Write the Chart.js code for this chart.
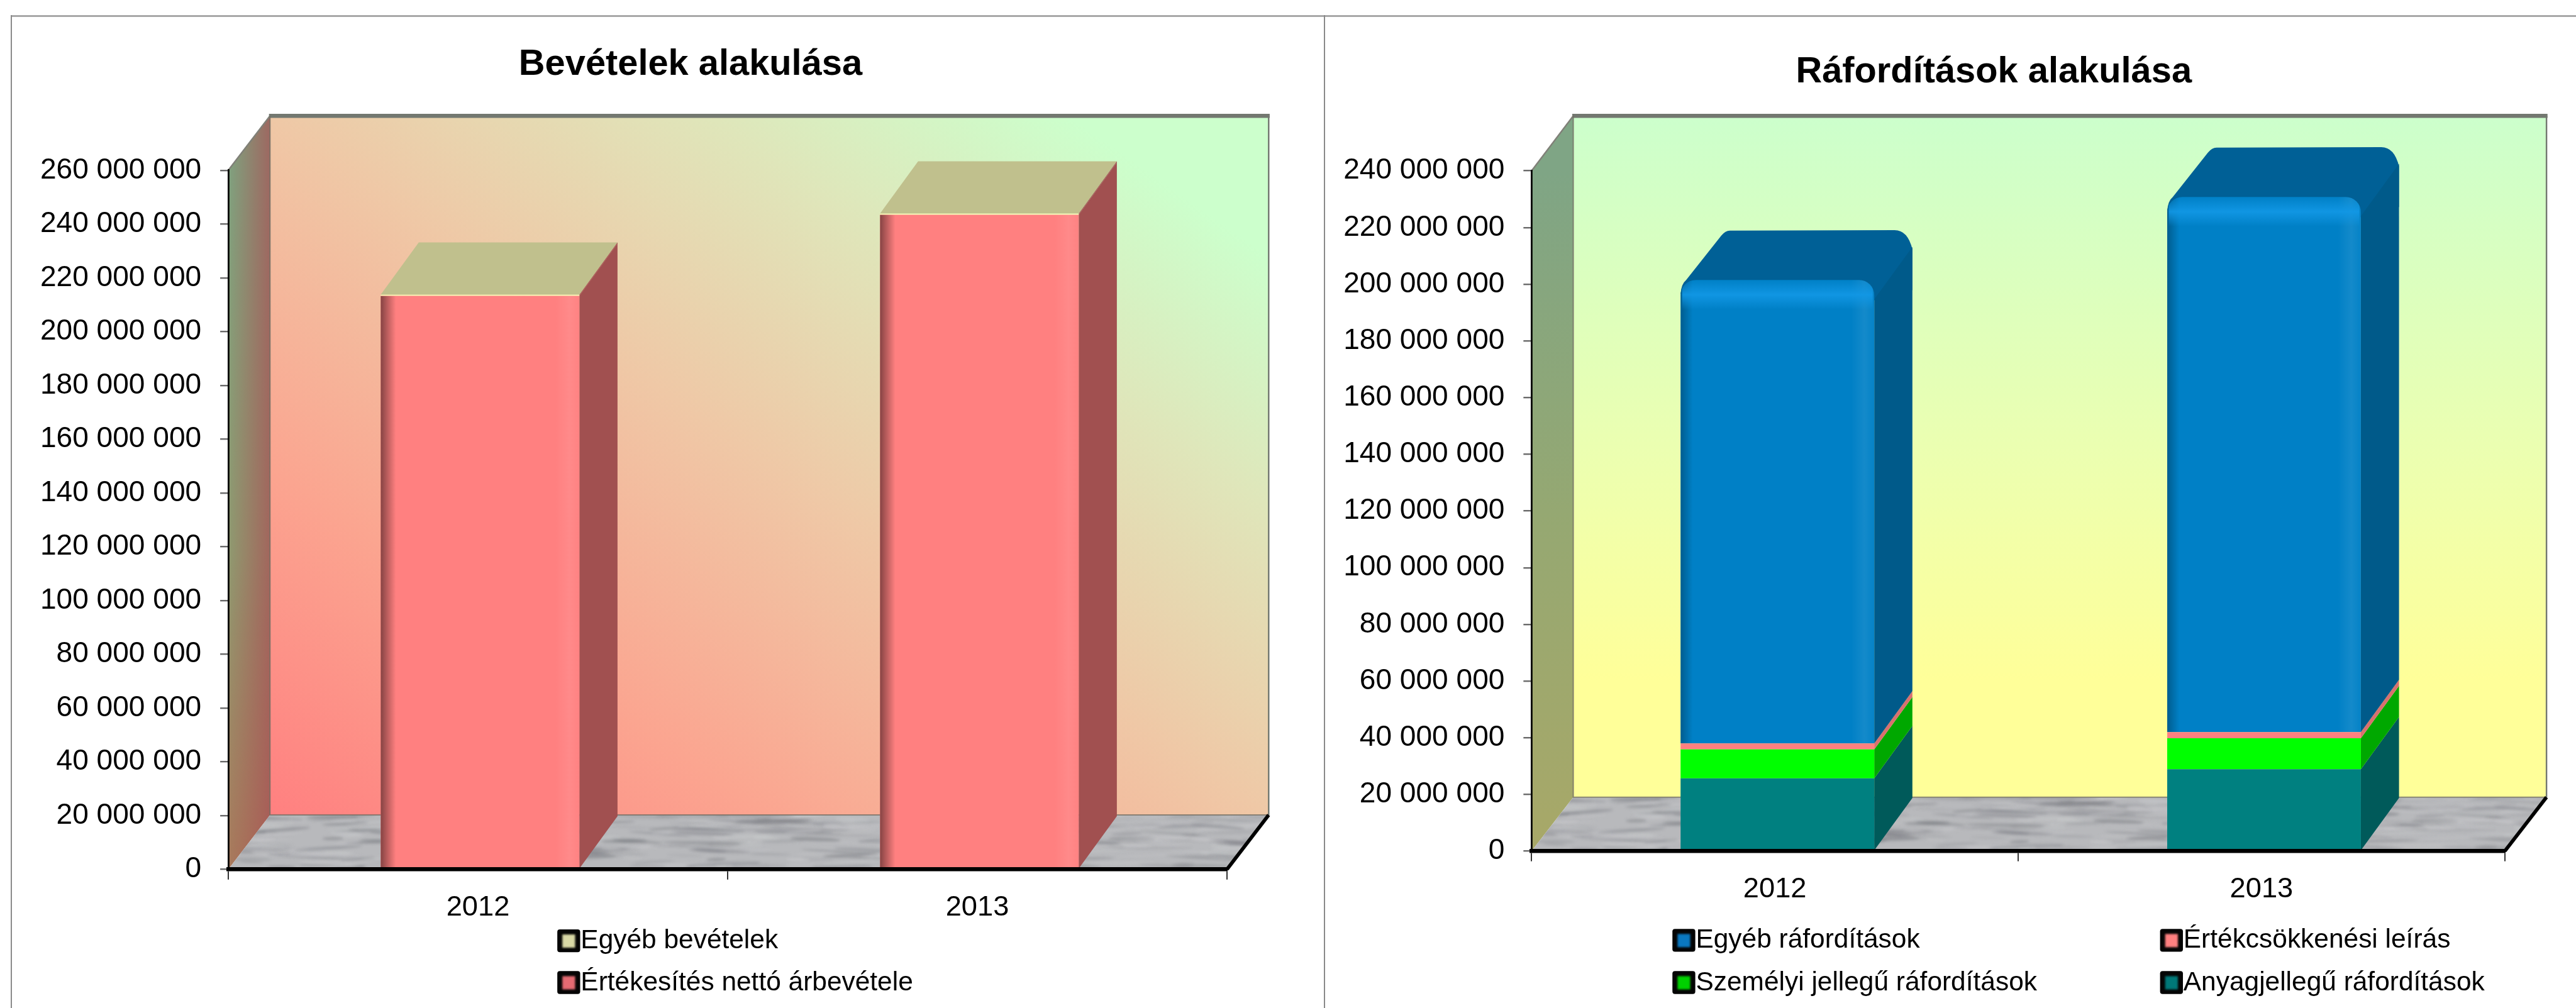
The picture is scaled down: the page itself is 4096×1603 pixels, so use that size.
<!DOCTYPE html>
<html lang="hu"><head><meta charset="utf-8"><title>Bevételek és ráfordítások</title>
<style>
html,body{margin:0;padding:0;background:#fff;overflow:hidden;width:4096px;height:1603px}
canvas{position:absolute;top:0}
.ln{position:absolute;background:#8a8a8a}
</style>
<script src="https://cdn.jsdelivr.net/npm/chart.js@4"></script>
</head><body>
<div class="ln" style="left:17px;top:24px;right:0;height:3px;background:#a8a8a8"></div>
<div class="ln" style="left:17px;top:24px;width:2px;bottom:0"></div>
<div class="ln" style="left:2105px;top:24px;width:2px;bottom:0"></div>
<canvas id="c1"></canvas><canvas id="c2"></canvas>
<script>
// ---- data ----
const categories = ['2012', '2013'];
const titleLeft = 'Bevételek alakulása';
const titleRight = 'Ráfordítások alakulása';
const salesRevenue = [213300000, 243500000];
const otherRevenue = [400000, 400000];
const materialCosts = [25700000, 28900000];
const personnelCosts = [10200000, 10900000];
const depreciation = [2100000, 2200000];
const otherCosts = [163500000, 188800000];
const labelSales = 'Értékesítés nettó árbevétele';
const labelOtherRevenue = 'Egyéb bevételek';
const labelMaterial = 'Anyagjellegű ráfordítások';
const labelPersonnel = 'Személyi jellegű ráfordítások';
const labelDepreciation = 'Értékcsökkenési leírás';
const labelOtherCosts = 'Egyéb ráfordítások';
const maxLeft = 260000000, maxRight = 240000000, tickStep = 20000000;

// ---- layout (reference pixels scaled to the window) ----
const K = 4096 / 5066, R = v => v * K;
const FONT = '"Liberation Sans", Arial, sans-serif';
const fmt = v => String(v).replace(/\B(?=(\d{3})+(?!\d))/g, ' ');

function hash(i){ const s = Math.sin(i * 12.9898) * 43758.5453; return s - Math.floor(s); }
function marble(ctx){
  const W = 1800, H = 110;
  const c = document.createElement('canvas'); c.width = W; c.height = H;
  const g = c.getContext('2d');
  g.fillStyle = '#b8b9bc'; g.fillRect(0, 0, W, H);
  g.filter = 'blur(2px)';
  for (let i = 0; i < 520; i++){
    const dark = hash(i * 3 + 1) < 0.6;
    g.fillStyle = dark ? `rgba(105,107,114,${0.12 + 0.33 * hash(i + 7)})` : `rgba(208,209,211,${0.18 + 0.3 * hash(i + 11)})`;
    g.beginPath();
    g.ellipse(hash(i + 0.5) * W, hash(i * 2 + 0.3) * H, 14 + hash(i * 5) * 50, 0.8 + hash(i * 7) * 2.6, (hash(i * 9) - 0.5) * 0.16, 0, 7);
    g.fill();
  }
  const p = ctx.createPattern(c, 'no-repeat');
  return p;
}

function wallFill(ctx, b, stops, diagonal){
  const w = b.r - b.l, h = b.b - b.t;
  let gr;
  if (diagonal){
    const cx = (b.l + b.r) / 2, cy = (b.t + b.b) / 2, L = Math.hypot(w, h);
    const ux = h / L, uy = -w / L, half = w * h / L;
    gr = ctx.createLinearGradient(cx - ux * half, cy - uy * half, cx + ux * half, cy + uy * half);
  } else gr = ctx.createLinearGradient(0, b.t, 0, b.b);
  stops.forEach(s => gr.addColorStop(s[0], s[1]));
  return gr;
}

const scene = {
  id: 'scene',
  afterLayout(chart){
    const o = chart.options.plugins.scene, t = chart.titleBlock;
    const shift = o.titleX - (t.left + t.right) / 2;
    t.left += shift; t.right += shift;
  },
  afterDatasetsUpdate(chart){
    const o = chart.options.plugins.scene;
    chart.data.datasets.forEach((_, i) => chart.getDatasetMeta(i).data.forEach(e => { e.x += o.barShift; }));
  },
  beforeDatasetsDraw(chart){
    const ctx = chart.ctx, o = chart.options.plugins.scene, a = chart.chartArea;
    const b = {l: a.left + o.depthX, r: a.right + o.depthX, t: o.wallTop, b: a.bottom - o.depthY};
    ctx.save();
    // back wall
    ctx.fillStyle = wallFill(ctx, b, o.wallStops, o.diagonal);
    ctx.fillRect(b.l, b.t, b.r - b.l, b.b - b.t);
    // side wall
    ctx.beginPath();
    ctx.moveTo(a.left, a.bottom); ctx.lineTo(a.left, a.top); ctx.lineTo(b.l, b.t); ctx.lineTo(b.l, b.b); ctx.closePath();
    const sg = ctx.createLinearGradient(0, a.top, 0, a.bottom);
    o.sideStops.forEach(s => sg.addColorStop(s[0], s[1]));
    ctx.fillStyle = sg; ctx.fill();
    if (o.sideTint){
      const tg = ctx.createLinearGradient(a.left, 0, b.l, 0);
      tg.addColorStop(0, 'rgba(170,80,80,0)'); tg.addColorStop(1, o.sideTint);
      ctx.fillStyle = tg; ctx.fill();
    }
    // floor
    ctx.save();
    ctx.beginPath();
    ctx.moveTo(a.left, a.bottom); ctx.lineTo(b.l, b.b); ctx.lineTo(b.r, b.b); ctx.lineTo(a.right, a.bottom); ctx.closePath();
    ctx.clip();
    ctx.translate(a.left, b.b);
    ctx.fillStyle = marble(ctx);
    ctx.fillRect(0, 0, a.right - a.left + o.depthX + 4, a.bottom - b.b + 2);
    ctx.restore();
    // wall edges
    ctx.strokeStyle = '#737870'; ctx.lineWidth = R(8);
    ctx.beginPath(); ctx.moveTo(b.l - R(2), b.t); ctx.lineTo(b.r + R(2), b.t); ctx.stroke();
    ctx.lineWidth = R(3);
    ctx.beginPath(); ctx.moveTo(b.r, b.t); ctx.lineTo(b.r, b.b); ctx.stroke();
    ctx.strokeStyle = '#808078';
    ctx.beginPath(); ctx.moveTo(a.left, a.top); ctx.lineTo(b.l, b.t); ctx.stroke();
    ctx.strokeStyle = 'rgba(110,105,95,.75)'; ctx.lineWidth = R(2.5);
    ctx.beginPath(); ctx.moveTo(b.l, b.t); ctx.lineTo(b.l, b.b); ctx.lineTo(b.r, b.b); ctx.stroke();
    ctx.strokeStyle = '#000'; ctx.lineWidth = R(7);
    ctx.beginPath(); ctx.moveTo(a.right, a.bottom); ctx.lineTo(b.r, b.b); ctx.stroke();

    // 3-D sides and tops of the bars, taken from the bar elements themselves
    const dx = o.barX, dy = o.barY, sets = chart.data.datasets, n = sets.length;
    categories.forEach((_, j) => {
      const top = chart.getDatasetMeta(n - 1).data[j];
      const L = top.x - top.width / 2, Rt = top.x + top.width / 2, yT = top.y;
      const rr = o.round;
      ctx.fillStyle = sets[n - 1].topColor;
      ctx.beginPath();
      if (rr){
        ctx.moveTo(L, yT + R(28));
        ctx.quadraticCurveTo(L + R(1), yT + R(8), L + R(11), yT);
        ctx.lineTo(L + R(80), yT - R(87));
        ctx.quadraticCurveTo(L + R(88), yT - R(97), L + R(97), yT - R(97));
        ctx.lineTo(Rt + R(40), yT - R(98));
        ctx.quadraticCurveTo(Rt + R(66), yT - R(98), Rt + dx, yT - R(60));
        ctx.lineTo(Rt + dx, yT + R(20)); ctx.lineTo(Rt, yT + R(40));
      } else {
        ctx.moveTo(L, yT); ctx.lineTo(L + dx, yT - dy); ctx.lineTo(Rt + dx, yT - dy); ctx.lineTo(Rt, yT);
      }
      ctx.closePath(); ctx.fill();
      sets.forEach((ds, i) => {
        const e = chart.getDatasetMeta(i).data[j];
        const x = e.x + e.width / 2, yt = i === n - 1 && rr ? e.y + R(38) : e.y, yb = e.base;
        ctx.fillStyle = ds.sideColor;
        ctx.beginPath();
        ctx.moveTo(x, yt); ctx.lineTo(x + dx, yt - dy); ctx.lineTo(x + dx, yb - dy); ctx.lineTo(x, yb);
        ctx.closePath(); ctx.fill();
      });
    });
    ctx.restore();
  },
  afterDatasetsDraw(chart){
    const ctx = chart.ctx, o = chart.options.plugins.scene, sets = chart.data.datasets;
    ctx.save();
    sets.forEach((ds, i) => {
      if (!ds.shade) return;
      chart.getDatasetMeta(i).data.forEach(e => {
        const L = e.x - e.width / 2, w = e.width, h = e.base - e.y;
        ctx.save();
        ctx.beginPath();
        ctx.roundRect(L, e.y, w, h, o.round ? [o.round, o.round, 0, 0] : 0);
        ctx.clip();
        const g = ctx.createLinearGradient(L, 0, L + w, 0);
        const f = R(ds.shadeW) / w;
        g.addColorStop(0, `rgba(0,0,0,${ds.shade})`); g.addColorStop(f, 'rgba(0,0,0,0)');
        g.addColorStop(0.88, 'rgba(255,255,255,0)'); g.addColorStop(0.95, 'rgba(255,255,255,.08)'); g.addColorStop(1, 'rgba(255,255,255,.02)');
        ctx.fillStyle = g; ctx.fillRect(L, e.y, w, h);
        if (o.round){
          const t = ctx.createLinearGradient(0, e.y, 0, e.y + R(58));
          t.addColorStop(0, 'rgba(18,152,230,0)'); t.addColorStop(0.5, 'rgba(18,152,230,.9)'); t.addColorStop(1, 'rgba(18,152,230,0)');
          ctx.fillStyle = t; ctx.fillRect(L + R(3), e.y, w - R(6), R(58));
        }
        ctx.restore();
      });
    });
    ctx.restore();
    // legend
    const lg = o.legend;
    ctx.save();
    ctx.font = `${R(52.5)}px ${FONT}`; ctx.textBaseline = 'middle'; ctx.textAlign = 'left';
    lg.forEach(it => {
      const ds = sets[it.ds], x = it.x, y = it.y;
      ctx.fillStyle = '#050505';
      ctx.beginPath(); ctx.roundRect(x, y - R(23), R(45), R(45), R(5)); ctx.fill();
      ctx.filter = 'blur(1.5px)';
      ctx.fillStyle = ds.legendColor;
      ctx.fillRect(x + R(10), y - R(13), R(25), R(26));
      ctx.filter = 'none';
      ctx.fillStyle = '#000';
      ctx.fillText(ds.label, x + R(46), y);
    });
    ctx.restore();
  }
};

function build(id, left, width, cfg){
  const cv = document.getElementById(id);
  cv.style.left = left + 'px'; cv.style.width = width + 'px'; cv.style.height = '1603px';
  cv.width = width; cv.height = 1603;
  return new Chart(cv, {
    type: 'bar',
    data: {labels: categories, datasets: cfg.datasets},
    plugins: [scene],
    options: {
      responsive: false, animation: false, events: [],
      layout: {padding: {left: 0, top: 0, right: width - (R(cfg.axisR) - left), bottom: 0}},
      datasets: {bar: {categoryPercentage: 1, barPercentage: cfg.barPct, borderWidth: 0}},
      plugins: {
        legend: {display: false}, tooltip: {enabled: false},
        title: {display: true, text: cfg.title, color: '#000',
          font: {family: FONT, weight: 'bold', size: R(71.5), lineHeight: 1.2},
          padding: {top: R(cfg.titleY) - R(71.5) * 0.6, bottom: R(cfg.tickTop) - R(cfg.titleY) - R(71.5) * 0.6}},
        scene: {
          titleX: R(cfg.titleX) - left, depthX: R(cfg.axisDepthX), depthY: R(cfg.axisDepthY), wallTop: R(228),
          barX: R(75), barY: R(103), barShift: R(cfg.barShift), round: cfg.round ? R(cfg.round) : 0,
          wallStops: cfg.wallStops, diagonal: cfg.diagonal, sideStops: cfg.sideStops, sideTint: cfg.sideTint,
          legend: cfg.legend.map(l => ({ds: l[0], x: R(l[1]) - left, y: R(l[2])}))
        }
      },
      scales: {
        x: {stacked: true, offset: true,
          afterFit: s => { s.height = 1603 - R(cfg.base); },
          grid: {drawOnChartArea: false, drawTicks: true, offset: true, tickLength: R(20), color: '#333', lineWidth: R(2.5)},
          border: {color: '#000', width: R(8), z: 1},
          ticks: {color: '#000', padding: R(22), maxRotation: 0, font: {family: FONT, size: R(56)}}},
        y: {stacked: true, min: 0, max: cfg.max,
          afterFit: s => { s.width = R(cfg.axisL) - left; },
          grid: {drawOnChartArea: false, drawTicks: true, tickLength: R(16), color: '#6a6a6a', lineWidth: R(3)},
          border: {color: '#000', width: R(3.5), z: 1},
          ticks: {color: '#000', stepSize: tickStep, padding: R(37), callback: fmt, autoSkip: false, font: {family: FONT, size: R(57)}}}
      }
    }
  });
}

build('c1', 0, 2106, {
  title: titleLeft, titleX: 1358, titleY: 127, tickTop: 335, max: maxLeft, base: 1710, barShift: 4,
  axisL: 449, axisR: 2413, axisDepthX: 82, axisDepthY: 107, barPct: 0.398, diagonal: true,
  wallStops: [[0, '#ff8080'], [0.25, '#fba590'], [0.5, '#efc8a6'], [0.72, '#dfe6ba'], [0.9, '#ccffcc'], [1, '#ccffcc']],
  sideStops: [[0, '#7fa27f'], [0.55, '#8f9a70'], [1, '#a87a5c']], sideTint: 'rgba(170,80,85,.7)',
  legend: [[1, 1096, 1851], [0, 1096, 1933]],
  datasets: [
    {label: labelSales, data: salesRevenue, backgroundColor: '#ff8080', sideColor: '#a15050', topColor: '#c0c08d', legendColor: '#e46a72', shade: 0.48, shadeW: 30},
    {label: labelOtherRevenue, data: otherRevenue, backgroundColor: '#ffffbb', sideColor: '#a15050', topColor: '#c0c08d', legendColor: '#d9d9a6'}
  ]
});
build('c2', 2106, 1990, {
  title: titleRight, titleX: 3921, titleY: 142, tickTop: 336, max: maxRight, base: 1674, barShift: 5,
  axisL: 3012, axisR: 4926, axisDepthX: 82, axisDepthY: 106, barPct: 0.398, diagonal: false, round: 30,
  wallStops: [[0, '#ccffcc'], [0.5, '#ecffb0'], [0.83, '#ffff99'], [1, '#ffff99']],
  sideStops: [[0, '#7fa585'], [0.5, '#95a872'], [1, '#a8a868']],
  legend: [[3, 3289, 1850], [2, 4248, 1850], [1, 3289, 1933], [0, 4248, 1933]],
  datasets: [
    {label: labelMaterial, data: materialCosts, backgroundColor: '#008080', sideColor: '#005a5a', topColor: '#005a5a', legendColor: '#007878'},
    {label: labelPersonnel, data: personnelCosts, backgroundColor: '#00ff00', sideColor: '#00a800', topColor: '#00a800', legendColor: '#00d000'},
    {label: labelDepreciation, data: depreciation, backgroundColor: '#ff8080', sideColor: '#d87070', topColor: '#d87070', legendColor: '#ff8080'},
    {label: labelOtherCosts, data: otherCosts, backgroundColor: '#0080c6', sideColor: '#005a8a', topColor: '#006096', legendColor: '#0a78c0',
     shade: 0.28, shadeW: 24, borderRadius: {topLeft: R(30), topRight: R(30), bottomLeft: 0, bottomRight: 0}, borderSkipped: false}
  ]
});
</script>
</body></html>
